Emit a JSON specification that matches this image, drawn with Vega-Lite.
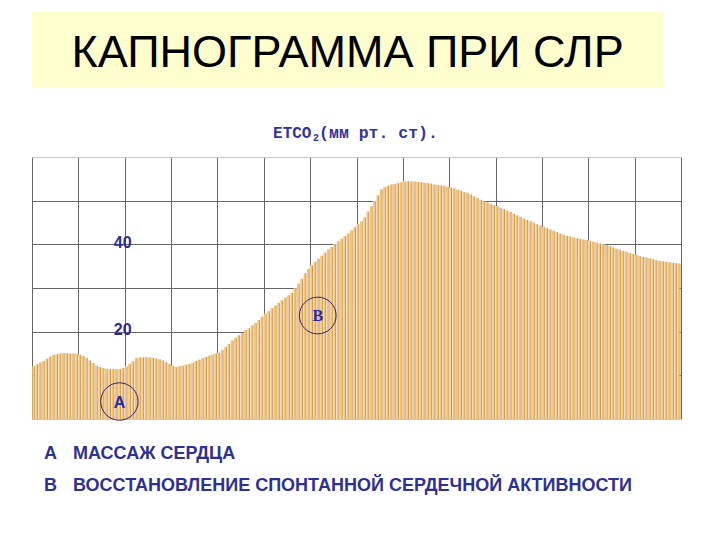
{
  "$schema": "https://vega.github.io/schema/vega-lite/v6.json",
  "width": 649,
  "height": 262,
  "autosize": "none",
  "padding": {"left": 32, "top": 157, "right": 39, "bottom": 121},
  "background": "white",
  "config": {
    "view": {"stroke": null},
    "axis": {"ticks": false, "domain": false, "labels": false, "titleOpacity": 0, "titlePadding": 0}
  },
  "datasets": {
    "etco2": [
      {"t":0,"v":12.1},{"t":1,"v":12.5},{"t":2,"v":12.9},{"t":3,"v":13.3},{"t":4,"v":13.8},{"t":5,"v":14.3},{"t":6,"v":14.7},{"t":7,"v":14.8},{"t":8,"v":15.0},{"t":9,"v":15.1},
      {"t":10,"v":15.1},{"t":11,"v":15.0},{"t":12,"v":15.0},{"t":13,"v":14.9},{"t":14,"v":14.7},{"t":15,"v":14.4},{"t":16,"v":14.0},{"t":17,"v":13.4},{"t":18,"v":12.8},{"t":19,"v":12.2},
      {"t":20,"v":11.9},{"t":21,"v":11.7},{"t":22,"v":11.5},{"t":23,"v":11.4},{"t":24,"v":11.4},{"t":25,"v":11.4},{"t":26,"v":11.4},{"t":27,"v":11.7},{"t":28,"v":12.0},{"t":29,"v":12.6},
      {"t":30,"v":13.2},{"t":31,"v":13.9},{"t":32,"v":14.1},{"t":33,"v":14.1},{"t":34,"v":14.2},{"t":35,"v":14.1},{"t":36,"v":14.0},{"t":37,"v":13.9},{"t":38,"v":13.7},{"t":39,"v":13.4},
      {"t":40,"v":13.0},{"t":41,"v":12.6},{"t":42,"v":12.2},{"t":43,"v":11.9},{"t":44,"v":12.1},{"t":45,"v":12.2},{"t":46,"v":12.4},{"t":47,"v":12.6},{"t":48,"v":12.9},{"t":49,"v":13.3},
      {"t":50,"v":13.6},{"t":51,"v":13.9},{"t":52,"v":14.2},{"t":53,"v":14.5},{"t":54,"v":14.7},{"t":55,"v":15.0},{"t":56,"v":15.2},{"t":57,"v":15.8},{"t":58,"v":16.5},{"t":59,"v":17.2},
      {"t":60,"v":18.0},{"t":61,"v":18.6},{"t":62,"v":19.2},{"t":63,"v":19.7},{"t":64,"v":20.3},{"t":65,"v":20.8},{"t":66,"v":21.4},{"t":67,"v":22.0},{"t":68,"v":22.7},{"t":69,"v":23.4},
      {"t":70,"v":24.1},{"t":71,"v":24.7},{"t":72,"v":25.4},{"t":73,"v":26.0},{"t":74,"v":26.6},{"t":75,"v":27.2},{"t":76,"v":27.8},{"t":77,"v":28.3},{"t":78,"v":28.9},{"t":79,"v":29.9},
      {"t":80,"v":31.0},{"t":81,"v":32.1},{"t":82,"v":33.4},{"t":83,"v":34.4},{"t":84,"v":35.2},{"t":85,"v":36.0},{"t":86,"v":36.7},{"t":87,"v":37.4},{"t":88,"v":38.1},{"t":89,"v":38.8},
      {"t":90,"v":39.4},{"t":91,"v":40.1},{"t":92,"v":40.7},{"t":93,"v":41.3},{"t":94,"v":41.9},{"t":95,"v":42.5},{"t":96,"v":43.2},{"t":97,"v":43.9},{"t":98,"v":44.6},{"t":99,"v":45.3},
      {"t":100,"v":46.2},{"t":101,"v":47.5},{"t":102,"v":48.7},{"t":103,"v":49.9},{"t":104,"v":51.2},{"t":105,"v":52.6},{"t":106,"v":53.1},{"t":107,"v":53.4},{"t":108,"v":53.7},{"t":109,"v":53.8},
      {"t":110,"v":54.0},{"t":111,"v":54.2},{"t":112,"v":54.4},{"t":113,"v":54.5},{"t":114,"v":54.4},{"t":115,"v":54.4},{"t":116,"v":54.3},{"t":117,"v":54.2},{"t":118,"v":54.1},{"t":119,"v":54.0},
      {"t":120,"v":53.9},{"t":121,"v":53.7},{"t":122,"v":53.6},{"t":123,"v":53.5},{"t":124,"v":53.4},{"t":125,"v":53.2},{"t":126,"v":53.0},{"t":127,"v":52.8},{"t":128,"v":52.5},{"t":129,"v":52.3},
      {"t":130,"v":52.0},{"t":131,"v":51.8},{"t":132,"v":51.4},{"t":133,"v":51.0},{"t":134,"v":50.6},{"t":135,"v":50.2},{"t":136,"v":49.8},{"t":137,"v":49.6},{"t":138,"v":49.3},{"t":139,"v":49.0},
      {"t":140,"v":48.7},{"t":141,"v":48.4},{"t":142,"v":48.1},{"t":143,"v":47.7},{"t":144,"v":47.4},{"t":145,"v":47.0},{"t":146,"v":46.6},{"t":147,"v":46.3},{"t":148,"v":45.9},{"t":149,"v":45.6},
      {"t":150,"v":45.3},{"t":151,"v":45.0},{"t":152,"v":44.6},{"t":153,"v":44.3},{"t":154,"v":44.0},{"t":155,"v":43.7},{"t":156,"v":43.4},{"t":157,"v":43.1},{"t":158,"v":42.8},{"t":159,"v":42.5},
      {"t":160,"v":42.2},{"t":161,"v":41.9},{"t":162,"v":41.8},{"t":163,"v":41.6},{"t":164,"v":41.4},{"t":165,"v":41.3},{"t":166,"v":41.1},{"t":167,"v":41.0},{"t":168,"v":40.8},{"t":169,"v":40.6},
      {"t":170,"v":40.4},{"t":171,"v":40.2},{"t":172,"v":40.0},{"t":173,"v":39.8},{"t":174,"v":39.6},{"t":175,"v":39.3},{"t":176,"v":39.0},{"t":177,"v":38.8},{"t":178,"v":38.5},{"t":179,"v":38.3},
      {"t":180,"v":38.0},{"t":181,"v":37.8},{"t":182,"v":37.6},{"t":183,"v":37.3},{"t":184,"v":37.1},{"t":185,"v":37.0},{"t":186,"v":36.8},{"t":187,"v":36.6},{"t":188,"v":36.4},{"t":189,"v":36.2},
      {"t":190,"v":36.1},{"t":191,"v":36.0},{"t":192,"v":35.9},{"t":193,"v":35.8},{"t":194,"v":35.7},{"t":195,"v":35.6}
    ]
  },
  "layer": [
    {
      "data": {"name": "etco2"},
      "mark": {"type": "area", "interpolate": "step", "color": "#F9E8E6", "xOffset": 1.65},
      "encoding": {
        "x": {"field": "t", "type": "quantitative", "scale": {"domain": [0, 196], "nice": false, "zero": false},
          "axis": {"values": [0,14,28,42,56,70,84,98,112,126,140,154,168,182,196], "grid": true, "gridColor": "#666666", "gridWidth": 1, "gridOpacity": 1, "labels": false, "ticks": false, "domain": false, "title": null}},
        "y": {"field": "v", "type": "quantitative", "scale": {"domain": [0, 60], "nice": false, "zero": true},
          "axis": {"values": [0,10,20,30,40,50,60], "grid": true,
            "gridColor": {"condition": {"test": "datum.value == 60 || datum.value == 0", "value": "#c8c8c8"}, "value": "#666666"},
            "gridWidth": 1, "gridOpacity": 1, "ticks": false, "domain": false, "labels": false, "title": null}}
      }
    },
    {
      "data": {"name": "etco2"},
      "mark": {"type": "rule", "color": "#F5C952", "strokeWidth": 1.3, "xOffset": 0.9},
      "encoding": {
        "x": {"field": "t", "type": "quantitative"},
        "y": {"field": "v", "type": "quantitative"},
        "y2": {"datum": 0}
      }
    },
    {
      "data": {"name": "etco2"},
      "mark": {"type": "rule", "color": "#C8946F", "strokeWidth": 1.0, "xOffset": 2.3},
      "encoding": {
        "x": {"field": "t", "type": "quantitative"},
        "y": {"field": "v", "type": "quantitative"},
        "y2": {"datum": 0}
      }
    },
    {
      "data": {"values": [{}]},
      "mark": {"type": "text", "text": "40", "font": "Liberation Sans", "fontSize": 16, "fontWeight": "bold", "color": "#2B2B9C", "align": "center", "baseline": "middle", "dy": -1.5},
      "encoding": {"x": {"datum": 27.4}, "y": {"datum": 40}}
    },
    {
      "data": {"values": [{}]},
      "mark": {"type": "text", "text": "20", "font": "Liberation Sans", "fontSize": 16, "fontWeight": "bold", "color": "#2B2B9C", "align": "center", "baseline": "middle", "dy": -1.5},
      "encoding": {"x": {"datum": 27.4}, "y": {"datum": 20}}
    },
    {
      "data": {"values": [{}]},
      "mark": {"type": "rect", "color": "#FEFECF"},
      "encoding": {
        "x": {"datum": 0}, "x2": {"datum": 190.6},
        "y": {"datum": 76.0}, "y2": {"datum": 93.2}
      }
    },
    {
      "data": {"values": [{}]},
      "mark": {"type": "text", "text": "КАПНОГРАММА ПРИ СЛР", "font": "Liberation Sans", "fontSize": 45, "color": "#000000", "align": "center", "baseline": "alphabetic"},
      "encoding": {"x": {"datum": 95.3}, "y": {"datum": 80.6}}
    },
    {
      "data": {"values": [{}]},
      "mark": {"type": "text", "text": "ETCO", "font": "Liberation Mono", "fontSize": 16, "fontWeight": "bold", "color": "#33339A", "align": "left", "baseline": "alphabetic"},
      "encoding": {"x": {"datum": 72.8}, "y": {"datum": 64.3}}
    },
    {
      "data": {"values": [{}]},
      "mark": {"type": "text", "text": "2", "font": "Liberation Mono", "fontSize": 10, "fontWeight": "bold", "color": "#33339A", "align": "left", "baseline": "alphabetic"},
      "encoding": {"x": {"datum": 84.9}, "y": {"datum": 63.6}}
    },
    {
      "data": {"values": [{}]},
      "mark": {"type": "text", "text": "(мм рт. ст).", "font": "Liberation Mono", "fontSize": 16.5, "fontWeight": "bold", "color": "#33339A", "align": "left", "baseline": "alphabetic"},
      "encoding": {"x": {"datum": 86.7}, "y": {"datum": 64.3}}
    },
    {
      "data": {"values": [{}]},
      "mark": {"type": "point", "shape": "circle", "filled": false, "size": 1400, "stroke": "#3B1F6B", "strokeWidth": 1, "opacity": 1},
      "encoding": {"x": {"datum": 26.4}, "y": {"datum": 4.0}}
    },
    {
      "data": {"values": [{}]},
      "mark": {"type": "point", "shape": "circle", "filled": false, "size": 1350, "stroke": "#3B1F6B", "strokeWidth": 1, "opacity": 1},
      "encoding": {"x": {"datum": 86.3}, "y": {"datum": 23.7}}
    },
    {
      "data": {"values": [{}]},
      "mark": {"type": "text", "text": "A", "font": "Liberation Sans", "fontSize": 16, "fontWeight": "bold", "color": "#2B2BA0", "align": "center", "baseline": "middle"},
      "encoding": {"x": {"datum": 26.4}, "y": {"datum": 3.6}}
    },
    {
      "data": {"values": [{}]},
      "mark": {"type": "text", "text": "B", "font": "Liberation Serif", "fontSize": 16, "fontWeight": "bold", "color": "#2B2BA0", "align": "center", "baseline": "middle"},
      "encoding": {"x": {"datum": 86.3}, "y": {"datum": 23.6}}
    },
    {
      "data": {"values": [{}]},
      "mark": {"type": "text", "text": "А", "font": "Liberation Sans", "fontSize": 18, "fontWeight": "bold", "color": "#2E3192", "align": "left", "baseline": "alphabetic"},
      "encoding": {"x": {"datum": 3.6}, "y": {"datum": -9.2}}
    },
    {
      "data": {"values": [{}]},
      "mark": {"type": "text", "text": "МАССАЖ СЕРДЦА", "font": "Liberation Sans", "fontSize": 18, "fontWeight": "bold", "color": "#2E3192", "align": "left", "baseline": "alphabetic"},
      "encoding": {"x": {"datum": 12.4}, "y": {"datum": -9.2}}
    },
    {
      "data": {"values": [{}]},
      "mark": {"type": "text", "text": "В", "font": "Liberation Sans", "fontSize": 18, "fontWeight": "bold", "color": "#2E3192", "align": "left", "baseline": "alphabetic"},
      "encoding": {"x": {"datum": 3.6}, "y": {"datum": -16.5}}
    },
    {
      "data": {"values": [{}]},
      "mark": {"type": "text", "text": "ВОССТАНОВЛЕНИЕ СПОНТАННОЙ СЕРДЕЧНОЙ АКТИВНОСТИ", "font": "Liberation Sans", "fontSize": 18, "fontWeight": "bold", "color": "#2E3192", "align": "left", "baseline": "alphabetic"},
      "encoding": {"x": {"datum": 12.4}, "y": {"datum": -16.5}}
    }
  ]
}
